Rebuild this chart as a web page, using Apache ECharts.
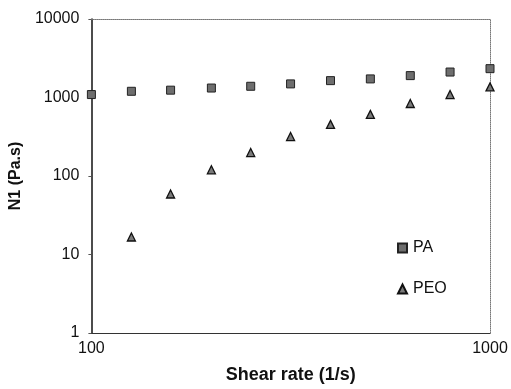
<!DOCTYPE html>
<html><head><meta charset="utf-8">
<script src="https://cdn.jsdelivr.net/npm/echarts@6/dist/echarts.min.js"></script>
<style>html,body{margin:0;padding:0;background:#fff}#c{width:511px;height:389px}</style>
</head><body><div id="c"></div>
<script>
var shearRate = [100, 126, 158, 200, 251, 316, 398, 501, 631, 794, 1000];
var paValues = [1090, 1200, 1240, 1320, 1390, 1490, 1640, 1725, 1900, 2110, 2330];
var peoRate = [126, 158, 200, 251, 316, 398, 501, 631, 794, 1000];
var peoValues = [16.7, 59, 120, 199, 318, 455, 609, 839, 1090, 1366];
var xTicks = [100, 1000];
var yTicks = [1, 10, 100, 1000, 10000];

var font = 'Liberation Sans, Arial, sans-serif';
function pairs(xs, ys){ return xs.map(function(x,i){ return [x, ys[i]]; }); }
var chart = echarts.init(document.getElementById('c'));
chart.setOption({
  animation: false,
  backgroundColor: '#fff',
  grid: {left: 90, right: 21, top: 19, bottom: 54, show: false},
  legend: {
    orient: 'vertical', left: 392, top: 235, itemGap: 25, itemWidth: 9, itemHeight: 9,
    textStyle: {fontFamily: font, fontSize: 16, color: '#111', padding: [0,0,0,1]},
    data: [{name: 'PA', icon: 'rect'}, {name: 'PEO', icon: 'triangle'}]
  },
  xAxis: [{
    type: 'log', logBase: 10, min: 100, max: 1000,
    name: 'Shear rate (1/s)', nameLocation: 'middle', nameGap: 33,
    nameTextStyle: {fontFamily: font, fontSize: 18, fontWeight: 'bold', color: '#111'},
    axisLine: {show: true, lineStyle: {color: '#333', width: 1.2}},
    axisTick: {show: false},
    splitLine: {show: false},
    axisLabel: {fontFamily: font, fontSize: 16, color: '#111', margin: 8,
      formatter: function(v){ var r = Math.round(v); return xTicks.indexOf(r) >= 0 ? String(r) : ''; }}
  }, {
    type: 'log', logBase: 10, min: 100, max: 1000, position: 'top',
    axisLine: {show: true, lineStyle: {color: '#777', width: 1, type: 'dotted'}},
    axisTick: {show: false}, axisLabel: {show: false}, splitLine: {show: false}
  }],
  yAxis: [{
    type: 'log', logBase: 10, min: 1, max: 10000,
    name: 'N1 (Pa.s)', nameLocation: 'middle', nameGap: 62,
    nameTextStyle: {fontFamily: font, fontSize: 16, fontWeight: 'bold', color: '#111'},
    axisLine: {show: true, lineStyle: {color: '#111', width: 1.5}},
    axisTick: {show: true, length: 3, lineStyle: {color: '#555'}},
    splitLine: {show: false},
    axisLabel: {fontFamily: font, fontSize: 16, color: '#111', margin: 12,
      formatter: function(v){ var r = Math.round(v); return yTicks.indexOf(r) >= 0 ? String(r) : ''; }}
  }, {
    type: 'log', logBase: 10, min: 1, max: 10000, position: 'right',
    axisLine: {show: true, lineStyle: {color: '#777', width: 1, type: 'dotted'}},
    axisTick: {show: false}, axisLabel: {show: false}, splitLine: {show: false}
  }],
  series: [{
    name: 'PA', type: 'scatter', symbol: 'rect', symbolSize: 8,
    itemStyle: {color: '#6e6e6e', borderColor: '#222', borderWidth: 1, opacity: 1},
    data: pairs(shearRate, paValues)
  }, {
    name: 'PEO', type: 'scatter', symbol: 'triangle', symbolSize: 8,
    itemStyle: {color: '#7a7a7a', borderColor: '#111', borderWidth: 1.3, opacity: 1},
    data: pairs(peoRate, peoValues)
  }]
});
</script></body></html>
